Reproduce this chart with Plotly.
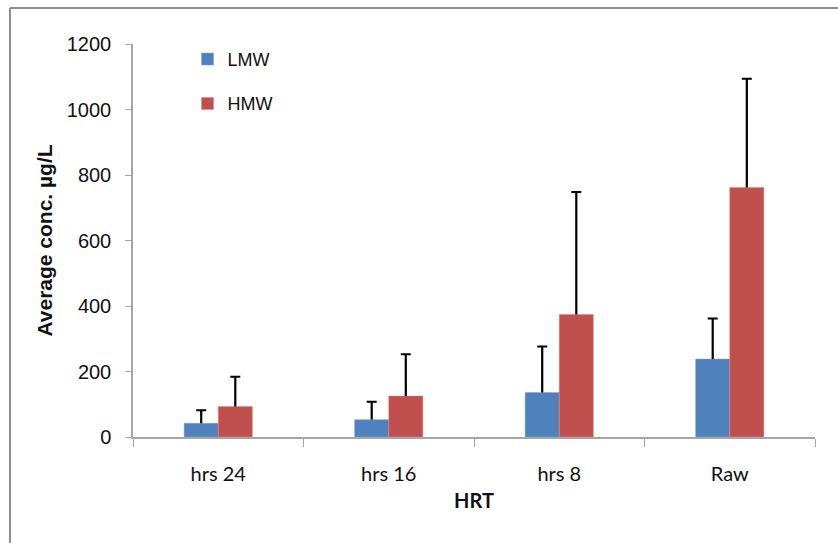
import plotly.graph_objects as go

categories = ["hrs 24", "hrs 16", "hrs 8", "Raw"]
lmw = [42, 53, 136, 238]
lmw_err = [40, 55, 140, 124]
hmw = [93, 125, 374, 762]
hmw_err = [91, 128, 374, 332]
zeros = [0, 0, 0, 0]

calib = "Lato, Carlito, Calibri, sans-serif"
arial = "Liberation Sans, Arial, sans-serif"

fig = go.Figure()
fig.add_trace(go.Bar(
    x=categories, y=lmw, name="LMW", legendgroup="a", offsetgroup="L",
    marker=dict(color="#4F81BD", line=dict(color="#7FA3D3", width=0.5)),
))
fig.add_trace(go.Bar(
    x=categories, y=hmw, name="HMW", legendgroup="b", offsetgroup="H",
    marker=dict(color="#C0504D", line=dict(color="#D88A88", width=0.5)),
))
# error whiskers (plus direction only): thin bars from the bar top, capped with a zero-length error bar
for vals, errs, grp in [(lmw, lmw_err, "L"), (hmw, hmw_err, "H")]:
    fig.add_trace(go.Bar(
        x=categories, y=errs, base=vals, offsetgroup=grp, width=0.013,
        marker=dict(color="black", line=dict(width=0)), showlegend=False, hoverinfo="skip",
        error_y=dict(type="data", array=zeros, color="black", thickness=2, width=5),
    ))

fig.update_layout(
    width=838, height=543,
    margin=dict(l=133, r=23, t=44, b=106, autoexpand=False),
    paper_bgcolor="white", plot_bgcolor="white",
    barmode="group", bargap=0.6, bargroupgap=0,
    showlegend=True,
    legend=dict(x=0.08, y=1.008, xanchor="left", yanchor="top",
                font=dict(family=arial, size=18, color="#111"),
                tracegroupgap=18, bgcolor="rgba(0,0,0,0)", itemwidth=30),
    xaxis=dict(
        showline=True, linecolor="#A6A6A6", linewidth=1.5,
        ticks="outside", tickson="boundaries", ticklen=8, tickcolor="#A6A6A6",
        tickfont=dict(family=calib, size=20, color="#111"),
        ticklabelstandoff=18, automargin=True,
        title=dict(text="<b>HRT</b>", font=dict(family=calib, size=20, color="#111"), standoff=10),
        showgrid=False,
    ),
    yaxis=dict(
        range=[0, 1200], dtick=200, showline=True, linecolor="#A6A6A6", linewidth=1.5,
        ticks="outside", ticklen=6, tickcolor="#A6A6A6",
        tickfont=dict(family=arial, size=20, color="#111"),
        ticklabelstandoff=10, automargin=False,
        title=dict(text="<b>Average conc. µg/L</b>", font=dict(family=arial, size=21, color="#111"), standoff=8),
        showgrid=False, zeroline=False,
    ),
    shapes=[
        dict(type="line", xref="paper", yref="paper", x0=-0.1804, x1=1.04, y0=1.0916, y1=1.0916,
             line=dict(color="#8C8C8C", width=2)),
        dict(type="line", xref="paper", yref="paper", x0=-0.1804, x1=-0.1804, y0=1.0916, y1=-0.3,
             line=dict(color="#8C8C8C", width=2)),
    ],
)

fig.write_html("out.html", config={"displayModeBar": False},
               post_script="document.body.style.margin='0';")
